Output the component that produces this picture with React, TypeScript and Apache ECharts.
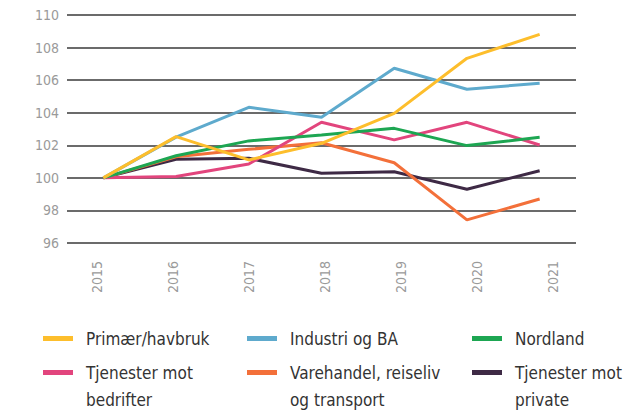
import React, { useEffect, useRef } from "react";
import * as echarts from "echarts";

const years = ["2015", "2016", "2017", "2018", "2019", "2020", "2021"];
const yTicks = [96, 110, 2];

const primaer = [100, 102.53, 101.1, 102.12, 103.96, 107.34, 108.81];
const industri = [100, 102.5, 104.33, 103.72, 106.73, 105.44, 105.81];
const nordland = [100, 101.36, 102.27, 102.63, 103.04, 101.98, 102.49];
const tjBedrifter = [100, 100.08, 100.85, 103.41, 102.33, 103.41, 102.02];
const varehandel = [100, 101.3, 101.75, 102.16, 100.93, 97.42, 98.7];
const tjPrivate = [100, 101.14, 101.2, 100.28, 100.38, 99.3, 100.44];

const seriesDefs = [
  { name: "Tjenester mot private", label: "\nTjenester mot\nprivate", data: tjPrivate, color: "#3E2A45", col: 2, row: 1 },
  { name: "Varehandel, reiseliv og transport", label: "\nVarehandel, reiseliv\nog transport", data: varehandel, color: "#F3703A", col: 1, row: 1 },
  { name: "Tjenester mot bedrifter", label: "\nTjenester mot\nbedrifter", data: tjBedrifter, color: "#E2457D", col: 0, row: 1 },
  { name: "Nordland", label: "Nordland", data: nordland, color: "#1DA652", col: 2, row: 0 },
  { name: "Industri og BA", label: "Industri og BA", data: industri, color: "#5EAACD", col: 1, row: 0 },
  { name: "Primær/havbruk", label: "Primær/havbruk", data: primaer, color: "#FDBE2C", col: 0, row: 0 },
];

const FONT = "'DejaVu Sans Condensed', 'Liberation Sans Narrow', Roboto, sans-serif";

export default function App() {
  const ref = useRef<HTMLDivElement>(null);
  useEffect(() => {
    document.body.style.margin = "0";
    const chart = echarts.init(ref.current!, undefined, { renderer: "svg" });
    const colLeft = [43, 247, 472];
    const rowTop = [325, 332];
    const labelMap: Record<string, string> = {};
    seriesDefs.forEach((s) => (labelMap[s.name] = s.label));
    chart.setOption({
      animation: false,
      grid: [
        { left: 67, right: 47, top: 15, height: 228 },
        { left: 59, right: 32, top: 15, height: 228 },
      ],
      xAxis: [
        {
          type: "category",
          data: years,
          gridIndex: 0,
          boundaryGap: true,
          axisLine: { show: false },
          axisTick: { show: false },
          axisLabel: { show: false },
          splitLine: { show: false },
        },
        {
          type: "category",
          data: years,
          gridIndex: 1,
          boundaryGap: true,
          axisLine: { show: false },
          axisTick: { show: false },
          axisLabel: {
            rotate: 90,
            margin: 18,
            color: "#9a9a9a",
            fontSize: 14,
            fontFamily: FONT,
          },
          splitLine: { show: false },
        },
      ],
      yAxis: [
        {
          type: "value",
          gridIndex: 0,
          min: yTicks[0],
          max: yTicks[1],
          interval: yTicks[2],
          axisLine: { show: false },
          axisTick: { show: false },
          axisLabel: { color: "#9a9a9a", fontSize: 14, margin: 8, fontFamily: FONT },
          splitLine: { lineStyle: { color: "#3a3a3a", width: 1.5 } },
        },
        {
          type: "value",
          gridIndex: 1,
          min: yTicks[0],
          max: yTicks[1],
          show: false,
          splitLine: { show: false },
        },
      ],
      legend: seriesDefs.map((s) => ({
        data: [s.name],
        left: colLeft[s.col],
        top: rowTop[s.row],
        padding: 0,
        selectedMode: false,
        icon: "rect",
        itemWidth: 30,
        itemHeight: 5,
        formatter: (n: string) => labelMap[n],
        textStyle: {
          color: "#333",
          fontSize: 17,
          lineHeight: 27,
          fontFamily: FONT,
          padding: [0, 0, 0, 8],
        },
      })),
      series: seriesDefs.map((s) => ({
        name: s.name,
        type: "line",
        xAxisIndex: 0,
        yAxisIndex: 0,
        data: s.data,
        symbol: "none",
        color: s.color,
        lineStyle: { width: 3, color: s.color },
      })),
    });
    return () => chart.dispose();
  }, []);
  return <div ref={ref} style={{ width: 623, height: 410 }} />;
}
